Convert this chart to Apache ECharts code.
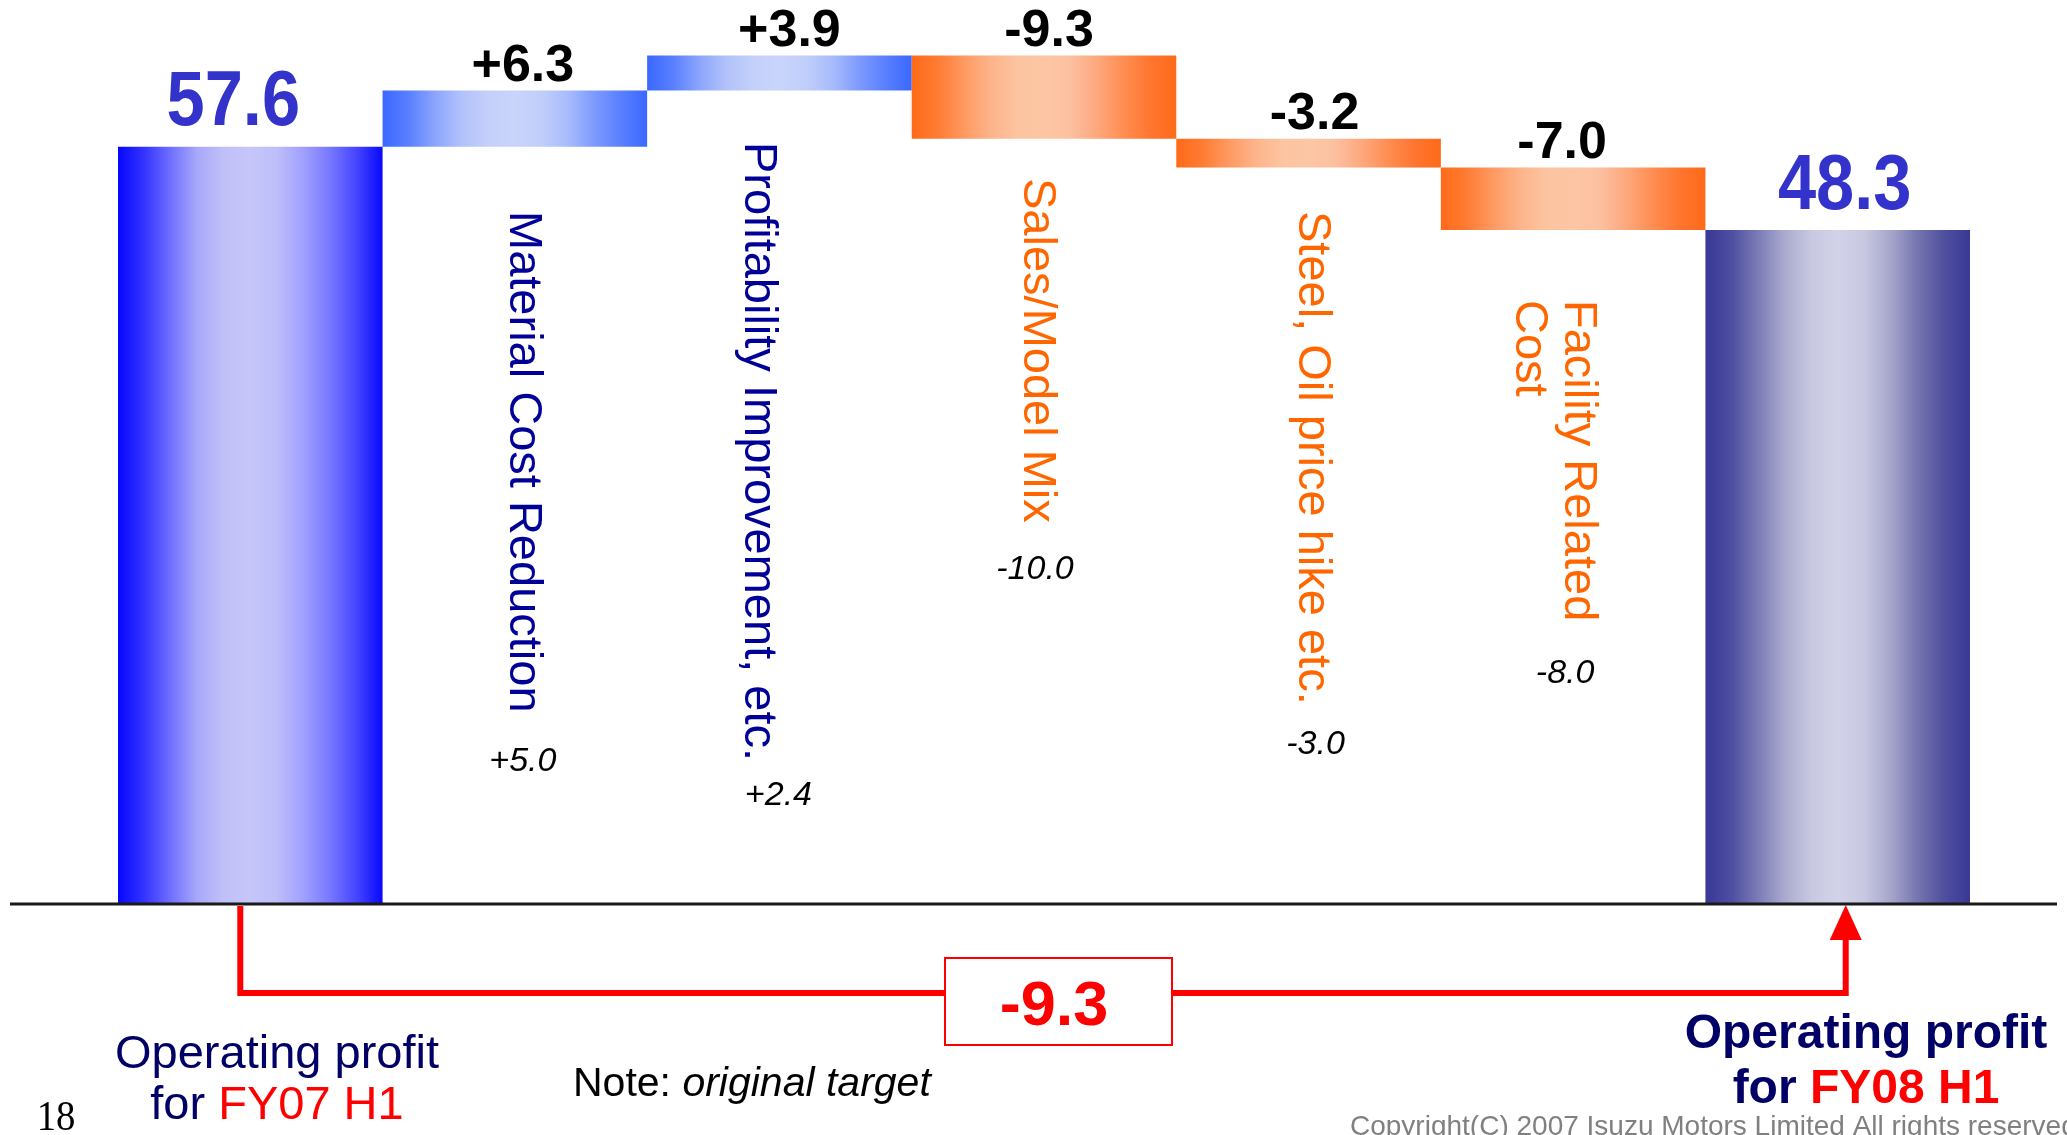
<!DOCTYPE html>
<html>
<head>
<meta charset="utf-8">
<script src="https://cdn.jsdelivr.net/npm/echarts@6/dist/echarts.min.js"></script>
<style>
  html, body { margin: 0; padding: 0; background: #ffffff; }
  #chart { width: 2067px; height: 1135px; }
</style>
</head>
<body>
<div id="chart"></div>
<script>
// Operating profit bridge: FY07 H1 -> FY08 H1 (billion yen)
const periods = ['FY07 H1', 'FY08 H1'];
const totalTitle = 'Operating profit';
const factors = [
  'Material Cost Reduction',
  'Profitability Improvement, etc.',
  'Sales/Model Mix',
  'Steel, Oil price hike etc.',
  'Facility Related\nCost'
];
const startProfit = 57.6;
const endProfit = 48.3;
const changes = [6.3, 3.9, -9.3, -3.2, -7.0];
const originalTarget = [5.0, 2.4, -10.0, -3.0, -8.0];
const noteLabel = 'Note: ';
const noteItalic = 'original target';
const pageNumber = '18';
const copyright = 'Copyright(C) 2007 Isuzu Motors Limited All rights reserved';

const categories = [totalTitle + ' for ' + periods[0], ...factors, totalTitle + ' for ' + periods[1]];

// hidden value axis; the two totals stand on the floor of the axis
const AXIS_FLOOR = -27;
const AXIS_CEIL = 72;

const NUM_FONT = "'Liberation Sans',Arial,Helvetica,sans-serif";
const TEXT_FONT = "'Liberation Sans',Arial,Helvetica,sans-serif";
const NAVY = '#000066';
const RED = '#ff0000';

// cylinder-like shading across each bar
const shades = {
  total: ['#0606ff', '#3434ff', '#7070ff', '#a8a8fa', '#c0c0f8', '#c6c6fa', '#bebefa', '#a0a0ff', '#7878ff', '#4646ff', '#0808ff'],
  up:    ['#3a68ff', '#5a80ff', '#8ca6fc', '#b2c2fa', '#c4d0fa', '#c8d4fa', '#c0cefa', '#a8bcfc', '#7e9afe', '#5a80ff', '#3a68ff'],
  down:  ['#ff6a18', '#ff7c34', '#fe9a62', '#fdb48a', '#fcc4a0', '#fdc6a4', '#fcc0a0', '#fda87e', '#ff8e52', '#ff7630', '#ff6a18'],
  end:   ['#383896', '#4e4ea2', '#7c7cb6', '#aaaad0', '#c8c8e2', '#d2d2e8', '#c8c8e2', '#a6a6cc', '#7676b0', '#50509e', '#383896']
};
function shadeFill(kind) {
  const cols = shades[kind];
  return new echarts.graphic.LinearGradient(0, 0, 1, 0,
    cols.map((c, k) => ({ offset: k / (cols.length - 1), color: c })));
}

const fmtTotal = v => v.toFixed(1);
const fmtChange = v => (v > 0 ? '+' : '-') + Math.abs(v).toFixed(1);

// floating segments of the bridge
const steps = [];
let level = startProfit;
steps.push({ lo: AXIS_FLOOR, hi: startProfit, kind: 'total', label: fmtTotal(startProfit) });
changes.forEach(d => {
  const next = Math.round((level + d) * 10) / 10;
  steps.push({ lo: Math.min(level, next), hi: Math.max(level, next), kind: d >= 0 ? 'up' : 'down', label: fmtChange(d) });
  level = next;
});
steps.push({ lo: AXIS_FLOOR, hi: endProfit, kind: 'end', label: fmtTotal(endProfit) });

// horizontal nudge of the value label above each bar (px)
const valueLabelDx = [-17, 8, 10, 5, 6, -11, 7];

// placement of the rotated factor names and the italic target figures
const nameLayout = [
  { dx: 8,   top: 211, tdx: 8,  ty: 762 },
  { dx: -21, top: 142, tdx: -1, ty: 796 },
  { dx: -7,  top: 178, tdx: -9, ty: 570 },
  { dx: 3,   top: 211, tdx: 7,  ty: 745 },
  { dx: -20, top: 300, tdx: -8, ty: 674 }
];

function renderStep(params, api) {
  const i = params.dataIndex;
  const s = steps[i];
  const top = api.coord([api.value(0), api.value(2)]);
  const bottom = api.coord([api.value(0), api.value(1)]);
  const w = api.size([1, 0])[0];
  const cx = top[0];
  const isTotal = s.kind === 'total' || s.kind === 'end';
  const children = [{
    type: 'rect',
    shape: { x: cx - w / 2, y: top[1], width: w, height: bottom[1] - top[1] },
    style: { fill: shadeFill(s.kind) }
  }, {
    type: 'text',
    x: cx + valueLabelDx[i], y: top[1] - (isTotal ? 43 : 24),
    scaleX: isTotal ? 0.88 : 1,
    style: {
      text: s.label, align: 'center', verticalAlign: 'middle',
      fontFamily: NUM_FONT, fontWeight: 'bold', fontSize: isTotal ? 78 : 52,
      fill: isTotal ? '#3333cc' : '#000000'
    }
  }];
  if (!isTotal) {
    const lay = nameLayout[i - 1];
    children.push({
      type: 'text',
      x: cx + lay.dx, y: lay.top, rotation: -Math.PI / 2,
      style: {
        text: factors[i - 1], align: 'left', verticalAlign: 'middle',
        fontFamily: TEXT_FONT, fontSize: 47, lineHeight: 49,
        fill: s.kind === 'up' ? '#000099' : '#ff6600'
      }
    });
    children.push({
      type: 'text',
      x: cx + lay.tdx, y: lay.ty,
      style: {
        text: fmtChange(originalTarget[i - 1]), align: 'center', verticalAlign: 'middle',
        fontFamily: TEXT_FONT, fontStyle: 'italic', fontSize: 34, fill: '#000000'
      }
    });
  }
  return { type: 'group', children };
}

const chart = echarts.init(document.getElementById('chart'), null, { renderer: 'canvas' });
chart.setOption({
  animation: false,
  backgroundColor: '#ffffff',
  grid: { left: 118, right: 97, top: 18, bottom: 231 },
  xAxis: { type: 'category', data: categories, show: false },
  yAxis: { type: 'value', min: AXIS_FLOOR, max: AXIS_CEIL, show: false },
  series: [{
    type: 'custom',
    renderItem: renderStep,
    encode: { x: 0, y: [1, 2] },
    data: steps.map((s, i) => [i, s.lo, s.hi]),
    z: 2
  }]
});

// baseline, change connector and captions under the bars
const toPx = (i, v) => chart.convertToPixel({ gridIndex: 0 }, [i, v]);
const baseY = toPx(0, AXIS_FLOOR)[1];
const xStart = toPx(0, startProfit)[0] - 10;
const xEnd = toPx(steps.length - 1, endProfit)[0] + 8;
const railY = 993;
const diff = Math.round((endProfit - startProfit) * 10) / 10;

chart.setOption({
  graphic: [
    { type: 'line', z: 10, shape: { x1: 10, y1: baseY, x2: 2057, y2: baseY }, style: { stroke: '#1a1a1a', lineWidth: 3 } },
    { type: 'polyline', z: 10,
      shape: { points: [[xStart, baseY + 2], [xStart, railY], [xEnd, railY], [xEnd, baseY + 36]] },
      style: { stroke: RED, lineWidth: 6, fill: null, lineJoin: 'miter' } },
    { type: 'polygon', z: 10,
      shape: { points: [[xEnd - 16, baseY + 36], [xEnd + 16, baseY + 36], [xEnd, baseY + 1]] },
      style: { fill: RED } },
    { type: 'rect', z: 11, shape: { x: 945, y: 958, width: 227, height: 87 },
      style: { fill: '#ffffff', stroke: RED, lineWidth: 2 } },
    { type: 'text', z: 12, x: 1054, y: 1008,
      style: { text: fmtChange(diff), align: 'center', verticalAlign: 'middle',
        fontFamily: NUM_FONT, fontWeight: 'bold', fontSize: 63, fill: RED } },
    { type: 'text', z: 12, x: 277, y: 1081,
      style: {
        text: '{n|' + totalTitle + '}\n{n|for }{r|' + periods[0] + '}',
        align: 'center', verticalAlign: 'middle',
        rich: {
          n: { fontFamily: TEXT_FONT, fontSize: 47, lineHeight: 51, fill: NAVY },
          r: { fontFamily: TEXT_FONT, fontSize: 47, lineHeight: 51, fill: RED }
        }
      } },
    { type: 'text', z: 12, x: 1866, y: 1062,
      style: {
        text: '{n|' + totalTitle + '}\n{n|for }{r|' + periods[1] + '}',
        align: 'center', verticalAlign: 'middle',
        rich: {
          n: { fontFamily: TEXT_FONT, fontWeight: 'bold', fontSize: 48, lineHeight: 55, fill: NAVY },
          r: { fontFamily: TEXT_FONT, fontWeight: 'bold', fontSize: 48, lineHeight: 55, fill: RED }
        }
      } },
    { type: 'text', z: 12, x: 573, y: 1085,
      style: {
        text: '{a|' + noteLabel + '}{i|' + noteItalic + '}',
        align: 'left', verticalAlign: 'middle',
        rich: {
          a: { fontFamily: TEXT_FONT, fontSize: 41, fill: '#000000' },
          i: { fontFamily: TEXT_FONT, fontStyle: 'italic', fontSize: 41, fill: '#000000' }
        }
      } },
    { type: 'text', z: 12, x: 56, y: 1119, scaleX: 0.9,
      style: { text: pageNumber, align: 'center', verticalAlign: 'middle',
        fontFamily: "'Liberation Serif','Times New Roman',serif", fontSize: 43, fill: '#000000' } },
    { type: 'text', z: 12, x: 1350, y: 1113,
      style: { text: copyright, align: 'left', verticalAlign: 'top',
        fontFamily: TEXT_FONT, fontSize: 28, fill: '#808080' } }
  ]
});
</script>
</body>
</html>
